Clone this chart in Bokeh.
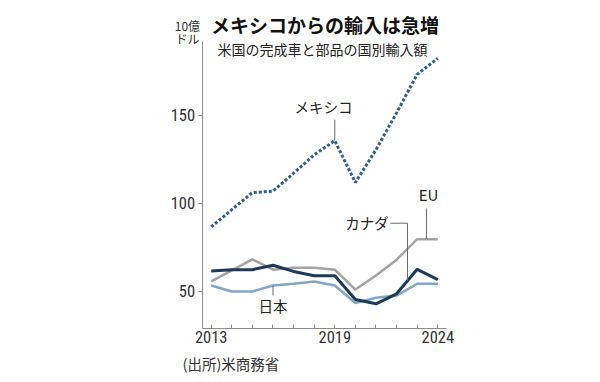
from bokeh.plotting import figure
from bokeh.models import Range1d, FixedTicker, Label
from bokeh.embed import file_html
from bokeh.resources import INLINE

# ---- data (US imports of finished vehicles & parts, $bn) ----
years = list(range(2013, 2025))
mexico = [86.7, 96.5, 106.2, 107.0, 117.2, 127.7, 135.7, 111.9, 130.6, 151.5, 173.4, 182.5]
canada = [61.6, 62.4, 62.4, 64.9, 61.4, 59.0, 59.0, 45.4, 43.0, 48.7, 62.6, 56.7]
eu = [55.7, 62.0, 68.3, 62.4, 63.5, 63.5, 62.4, 51.1, 59.1, 68.1, 79.7, 79.7]
japan = [53.4, 50.0, 50.0, 53.4, 54.4, 55.7, 53.4, 43.5, 46.4, 47.7, 54.4, 54.4]
y_ticks = [50, 100, 150]
x_tick_labels = {2013: "2013", 2019: "2019", 2024: "2024"}

title_text = "メキシコからの輸入は急増"
subtitle_text = "米国の完成車と部品の国別輸入額"
unit_line1 = "10億"
unit_line2 = "ドル"
source_text = "(出所)米商務省"

JP = "Noto Sans CJK JP"
NUM = "Liberation Sans Narrow, Roboto Condensed, Roboto"

# axis extents (data units)
X0, X1 = 2012.56, 2024.42
Y0, Y1 = 29.15, 192.0

W, H = 596, 380
p = figure(width=W, height=H, output_backend="svg", toolbar_location=None, title=None,
           x_range=Range1d(2002.772, 2002.772 + W / 20.6),
           y_range=Range1d(215.34 - H / 1.76, 215.34),
           min_border=0, min_border_left=0, min_border_right=0,
           min_border_top=0, min_border_bottom=0)
p.outline_line_color = None
p.xgrid.grid_line_color = None
p.ygrid.grid_line_color = None
p.background_fill_color = "white"
p.border_fill_color = "white"

# axes, pinned at fixed data locations
p.xaxis.fixed_location = Y0
p.xaxis.bounds = (X0, X1)
p.xaxis.ticker = FixedTicker(ticks=years)
p.xaxis.major_label_overrides = {y: x_tick_labels.get(y, "") for y in years}
p.xaxis.minor_tick_line_color = None
p.xaxis.major_tick_in = 4
p.xaxis.major_tick_out = 0
p.xaxis.axis_line_color = "#8a8a8a"
p.xaxis.major_tick_line_color = "#8a8a8a"
p.xaxis.major_label_text_font = NUM
p.xaxis.major_label_text_font_size = "16.5px"
p.xaxis.major_label_text_color = "#333333"
p.xaxis.major_label_standoff = 3

p.yaxis.fixed_location = X0
p.yaxis.bounds = (Y0, Y1)
p.yaxis.ticker = FixedTicker(ticks=y_ticks)
p.yaxis.minor_tick_line_color = None
p.yaxis.major_tick_in = 0
p.yaxis.major_tick_out = 4
p.yaxis.axis_line_color = "#8a8a8a"
p.yaxis.major_tick_line_color = "#8a8a8a"
p.yaxis.major_label_text_font = NUM
p.yaxis.major_label_text_font_size = "16.5px"
p.yaxis.major_label_text_color = "#333333"
p.yaxis.major_label_standoff = 3

# lines
p.line(years, mexico, line_color="#2d5f8e", line_width=3, line_dash="3 2")
p.line(years, eu, line_color="#a3a3a3", line_width=2.5)
p.line(years, japan, line_color="#7fa7c9", line_width=2.5)
p.line(years, canada, line_color="#1b3a5c", line_width=3)

# leader lines
lead = "#6a6a6a"
i19 = years.index(2019)
p.segment(x0=[2019], y0=[mexico[i19]], x1=[2019], y1=[147.7], line_color=lead, line_width=1)
p.segment(x0=[2021.7, 2022.53], y0=[88.8, 88.8], x1=[2022.53, 2022.53], y1=[88.8, 56.2],
          line_color=lead, line_width=1)
p.segment(x0=[2023.45], y0=[97.2], x1=[2023.45], y1=[eu[-1]], line_color=lead, line_width=1)
i16 = years.index(2016)
p.segment(x0=[2016], y0=[japan[i16]], x1=[2016], y1=[47.7], line_color=lead, line_width=1)


def lab(x, y, t, size="14.5px", align="center", bold=False, color="#222222"):
    p.add_layout(Label(x=x, y=y, text=t, text_font=JP, text_font_size=size,
                       text_align=align, text_baseline="middle", text_color=color,
                       text_font_style="bold" if bold else "normal"))


lab(2018.45, 155.1, "メキシコ")
lab(2023.55, 105.1, "EU", size="15px")
lab(2021.62, 89.4, "カナダ", align="right")
lab(2016.0, 42.0, "日本")

lab(2012.99, 201.7, title_text, size="19px", align="left", bold=True, color="#111111")
lab(2013.31, 187.9, subtitle_text, size="14px", align="left")
lab(2012.46, 201.0, unit_line1, size="12px", align="right", color="#333333")
lab(2012.43, 193.75, unit_line2, size="12px", align="right", color="#333333")
lab(2011.61, 8.9, source_text, size="14.5px", align="left", color="#333333")

open("out.html", "w").write(file_html(p, INLINE))
